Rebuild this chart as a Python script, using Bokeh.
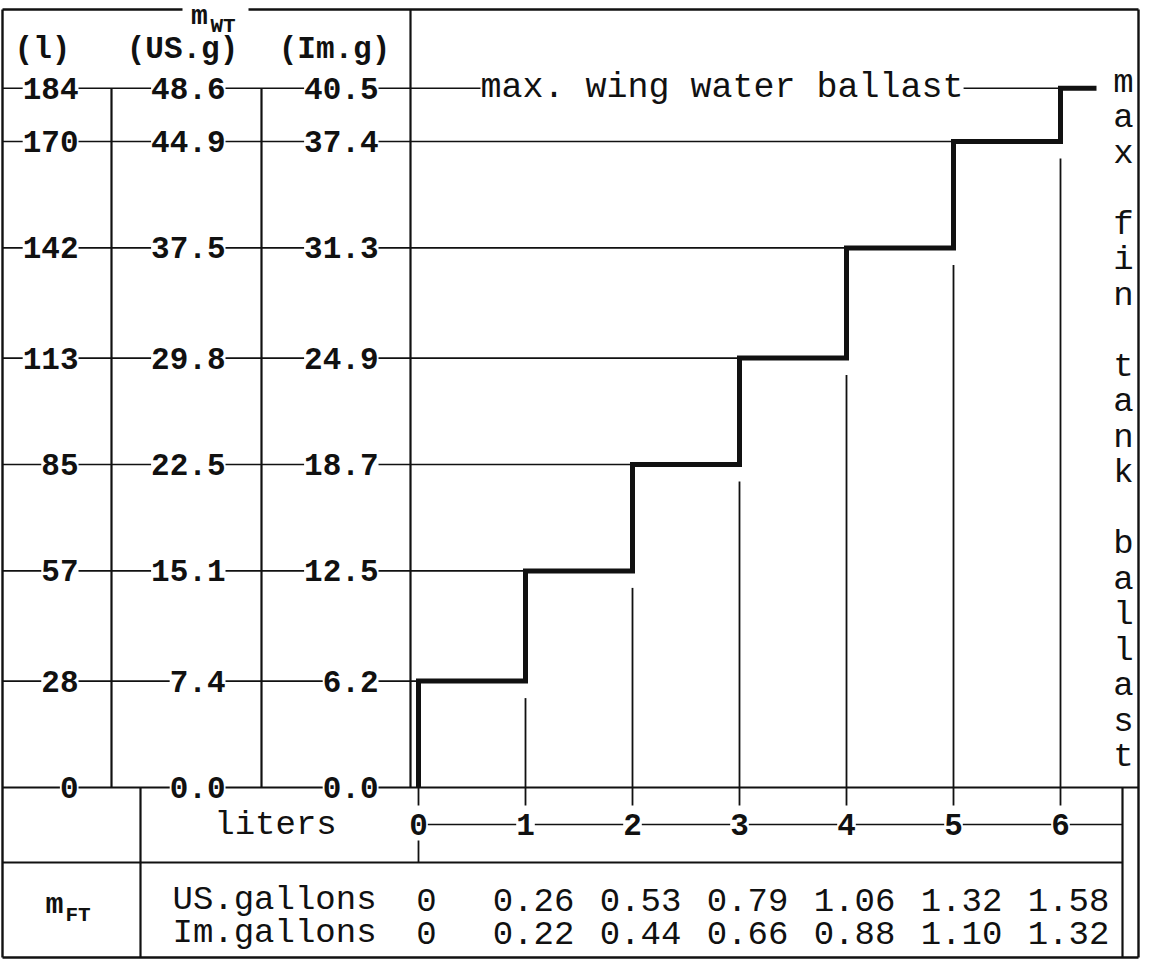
from bokeh.plotting import figure
from bokeh.models import Range1d, ColumnDataSource, LabelSet
from bokeh.core.properties import value
from bokeh.embed import file_html
from bokeh.resources import INLINE

# ---------------- data ----------------
wing_liters = [0, 28, 57, 85, 113, 142, 170, 184]
wing_us_gal = [0.0, 7.4, 15.1, 22.5, 29.8, 37.5, 44.9, 48.6]
wing_im_gal = [0.0, 6.2, 12.5, 18.7, 24.9, 31.3, 37.4, 40.5]
fin_liters = [0, 1, 2, 3, 4, 5, 6]
fin_us_gal = ["0", "0.26", "0.53", "0.79", "1.06", "1.32", "1.58"]
fin_im_gal = ["0", "0.22", "0.44", "0.66", "0.88", "1.10", "1.32"]
# max. wing water ballast (liters) allowed for each fin tank filling (liters)
max_wing_for_fin = [28, 57, 85, 113, 142, 170, 184]
col_headers = ["(l)", "(US.g)", "(Im.g)"]
vertical_note = "max fin tank ballast"

# ---------------- layout (reference pixel geometry) ----------------
W, H = 1141, 959
OFF = 8
X0_PX, XSTEP_PX = 426, 107     # pixel of fin 0 l, pixels per fin liter
Y0_PX, YSCALE = 795, 3.80      # pixel of wing 0 l, pixels per wing liter


def fx(px):
    return (px - X0_PX) / XSTEP_PX


def fy(py):
    return (Y0_PX - py) / YSCALE


FONT = value("Liberation Mono")
INK = "#111111"
L, R, T, B = 10, 1146, 17, 965
COL1, COL2, PLOT_L = 119, 269, 418
LOW_SEP, INNER_R = 148, 1130
DIV_Y, XLAB_Y = 870, 832
GAP = 17 / YSCALE

p = figure(width=W, height=H, x_range=Range1d(fx(OFF), fx(OFF + W)),
           y_range=Range1d(fy(OFF + H), fy(OFF)), output_backend="svg",
           toolbar_location=None, x_axis_type=None, y_axis_type=None,
           min_border=0, outline_line_color=None)
p.grid.visible = False
p.background_fill_color = "white"
p.border_fill_color = "white"

segs = {"x0": [], "y0": [], "x1": [], "y1": [], "w": []}


def seg(x0, y0, x1, y1, w=1.6):
    segs["x0"].append(x0); segs["y0"].append(y0)
    segs["x1"].append(x1); segs["y1"].append(y1); segs["w"].append(w)


top_row = wing_liters[-1]
# frame
seg(fx(L), fy(T), fx(190), fy(T), 2.4)
seg(fx(256), fy(T), fx(R), fy(T), 2.4)
seg(fx(L), fy(T), fx(L), fy(B), 2.4)
seg(fx(R), fy(T), fx(R), fy(B), 2.4)
seg(fx(L), fy(B), fx(R), fy(B), 2.4)
# column separators of the m_WT table
seg(fx(COL1), top_row, fx(COL1), 0, 2.2)
seg(fx(COL2), top_row, fx(COL2), 0, 2.2)
seg(fx(PLOT_L), fy(T), fx(PLOT_L), 0, 2.2)
# lower table
seg(fx(LOW_SEP), 0, fx(LOW_SEP), fy(B), 2.2)
seg(fx(INNER_R), 0, fx(INNER_R), fy(B), 2.2)
seg(fx(L), fy(DIV_Y), fx(INNER_R), fy(DIV_Y), 2.2)
seg(fin_liters[0], fy(XLAB_Y), fx(INNER_R), fy(XLAB_Y), 1.6)
seg(fin_liters[0], fy(848), fin_liters[0], fy(DIV_Y), 1.8)

# row lines of wing water levels
for lvl in wing_liters:
    if lvl == 0:
        seg(fx(L), 0, fx(R), 0, 2.0)
    else:
        i = max_wing_for_fin.index(lvl)
        seg(fx(L), lvl, fin_liters[i], lvl, 1.6)

# fin-tank vertical guide lines
for i, xi in enumerate(fin_liters):
    lower = 0 if i == 0 else max_wing_for_fin[i - 1] - GAP
    seg(xi, fy(813), xi, lower, 1.8)

p.segment(x0="x0", y0="y0", x1="x1", y1="y1", line_width="w",
          line_color=INK, source=ColumnDataSource(segs))

# thick step line
sx, sy = [fin_liters[0]], [0]
for i, xi in enumerate(fin_liters):
    sx.append(xi); sy.append(max_wing_for_fin[i])
    nxt = fin_liters[i + 1] if i + 1 < len(fin_liters) else fx(1104)
    sx.append(nxt); sy.append(max_wing_for_fin[i])
p.line(sx, sy, line_width=5, line_color=INK, line_join="miter")


def labels(xs, ys, texts, size=32, align="center", bold=False, bg=True):
    src = ColumnDataSource(dict(x=xs, y=ys, t=texts))
    ls = LabelSet(x="x", y="y", text="t", source=src, text_font=FONT,
                  text_font_size=f"{size}px", text_align=align,
                  text_baseline="middle", text_color=INK,
                  text_font_style="bold" if bold else "normal",
                  background_fill_color="white" if bg else None)
    p.add_layout(ls)


# headers
labels([fx(50), fx(190), fx(342)], [fy(57)] * 3, col_headers, 31, bold=True, bg=False)
labels([fx(207)], [fy(24)], ["m"], 28, bold=True, bg=False)
labels([fx(218)], [fy(34)], ["WT"], 21, align="left", bold=True, bg=False)

# level labels
labels([fx(86)] * len(wing_liters), wing_liters, [str(v) for v in wing_liters],
       31, align="right", bold=True)
labels([fx(233)] * len(wing_liters), wing_liters, [f"{v:.1f}" for v in wing_us_gal],
       31, align="right", bold=True)
labels([fx(386)] * len(wing_liters), wing_liters, [f"{v:.1f}" for v in wing_im_gal],
       31, align="right", bold=True)
labels([fx(488)], [top_row], ["max. wing water ballast"], 35, align="left")

# vertical note
labels([fx(1131)] * len(vertical_note),
       [fy(90 + 35.5 * k) for k in range(len(vertical_note))],
       list(vertical_note), 34, bg=False)

# x axis (fin tank liters)
labels(fin_liters, [fy(XLAB_Y)] * len(fin_liters), [str(v) for v in fin_liters],
       31, bold=True)
labels([fx(283)], [fy(XLAB_Y)], ["liters"], 34, bg=False)

# lower table
labels([fx(62)], [fy(912)], ["m"], 30, bold=True, bg=False)
labels([fx(73)], [fy(923)], ["FT"], 21, align="left", bold=True, bg=False)
labels([fx(180)], [fy(907)], ["US.gallons"], 34, align="left", bg=False)
labels([fx(180)], [fy(940)], ["Im.gallons"], 34, align="left", bg=False)
labels([x + fx(X0_PX + 8) for x in fin_liters], [fy(907)] * len(fin_liters),
       fin_us_gal, 34, bg=False)
labels([x + fx(X0_PX + 8) for x in fin_liters], [fy(940)] * len(fin_liters),
       fin_im_gal, 34, bg=False)

open("out.html", "w").write(file_html(p, INLINE))
